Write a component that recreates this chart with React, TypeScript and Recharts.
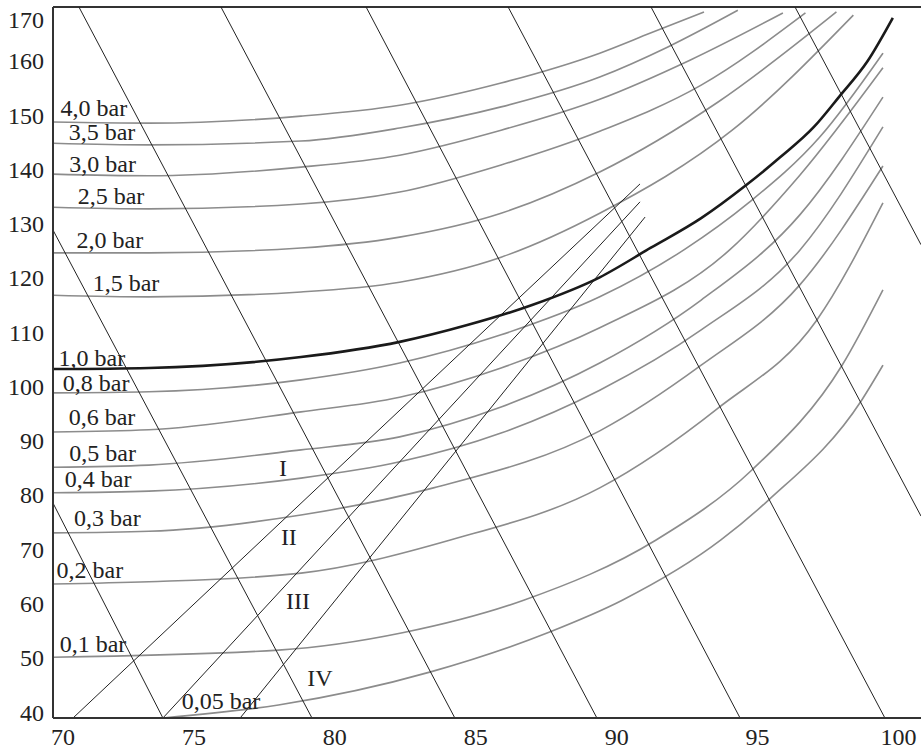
import React from 'react'
import { LineChart, Line, XAxis, YAxis, ReferenceLine, ReferenceDot } from 'recharts'

// axis ticks
const xTicks = [70, 75, 80, 85, 90, 95, 100]
const yTicks = [40, 50, 60, 70, 80, 90, 100, 110, 120, 130, 140, 150, 160, 170]

// pressure curves: [x, temperature]
const bar4_0 = [[70, 148.8], [73.4, 148.6], [78.8, 149.9], [82.3, 151.9], [85.9, 156.0], [89.4, 161.5], [91.2, 165.2], [93.1, 169.1]]
const bar3_5 = [[70, 144.9], [73.4, 144.6], [78.8, 145.3], [82.3, 147.7], [85.9, 151.6], [89.4, 157.1], [91.8, 162.6], [94.3, 169.4]]
const bar3_0 = [[70, 139.2], [73.4, 138.9], [78.8, 140.5], [82.3, 142.7], [85.9, 147.3], [89.4, 153.0], [92.6, 160.2], [95.9, 168.9]]
const bar2_5 = [[70, 133.1], [73.4, 132.8], [78.8, 133.7], [82.3, 135.9], [85.9, 140.9], [89.4, 147.1], [93.0, 155.6], [96.7, 168.9]]
const bar2_0 = [[70, 124.7], [73.4, 124.7], [78.8, 125.6], [82.3, 127.6], [85.9, 132.0], [89.4, 139.6], [93.6, 152.5], [97.8, 169.1]]
const bar1_5 = [[70, 116.9], [73.4, 116.6], [78.8, 117.5], [82.3, 119.3], [85.9, 123.9], [89.4, 132.0], [94.1, 147.3], [98.4, 168.5]]
const bar1_0 = [[70, 103.3], [73.4, 103.5], [78.8, 105.5], [82.3, 108.3], [84.7, 111.4], [87.0, 115.1], [89.4, 120.2], [91.2, 125.6], [93.0, 131.1], [94.6, 137.2], [95.8, 142.3], [97.0, 147.9], [97.9, 153.5], [98.9, 160.0], [99.8, 168.0]]
const bar0_8 = [[70, 98.9], [73.4, 99.1], [78.8, 101.3], [82.3, 104.4], [85.9, 109.6], [89.4, 116.6], [92.4, 125.3], [94.7, 134.0], [97.2, 146.0], [99.45, 161.5]]
const bar0_6 = [[70, 91.7], [73.4, 92.1], [78.8, 95.4], [82.3, 98.1], [85.9, 103.5], [89.4, 110.9], [94.0, 125.2], [96.5, 139.0], [99.45, 158.8]]
const bar0_5 = [[70, 85.2], [73.4, 85.6], [78.8, 88.4], [82.3, 90.8], [85.9, 96.3], [89.4, 104.4], [93.0, 116.0], [96.5, 131.7], [99.45, 153.4]]
const bar0_4 = [[70, 80.5], [73.4, 80.8], [78.8, 83.2], [82.3, 86.2], [85.9, 91.5], [89.4, 99.4], [93.0, 110.5], [96.5, 125.2], [99.45, 147.9]]
const bar0_3 = [[70, 73.1], [73.4, 73.4], [78.8, 76.4], [83.5, 81.4], [89.4, 91.9], [93.0, 104.0], [96.5, 118.8], [99.45, 140.7]]
const bar0_2 = [[70, 63.7], [73.4, 64.1], [78.8, 65.7], [84.1, 71.8], [89.4, 81.4], [93.6, 96.1], [97.1, 112.3], [99.45, 133.9]]
const bar0_1 = [[70, 50.2], [78.0, 51.5], [82.4, 54.7], [86.7, 60.7], [91.4, 71.8], [94.8, 84.7], [98.0, 104.0], [99.45, 117.9]]
const bar0_05 = [[73.9, 39.0], [78.0, 41.4], [83.4, 47.5], [87.6, 54.8], [90.2, 60.7], [93.7, 71.8], [95.4, 79.2], [98.7, 97.6], [99.45, 104.0]]

const grayCurves = [bar4_0, bar3_5, bar3_0, bar2_5, bar2_0, bar1_5, bar0_8, bar0_6, bar0_5, bar0_4, bar0_3, bar0_2, bar0_1, bar0_05]

// straight descending lines
const falling = [
  [[70, 78.6], [73.9, 39]],
  [[70, 128.9], [79.19, 39]],
  [[70.92, 170], [84.26, 39]],
  [[75.96, 170], [89.3, 39]],
  [[81.11, 170], [94.38, 39]],
  [[86.15, 170], [99.52, 39]],
  [[91.22, 170], [100.8, 76.2]],
  [[96.33, 170], [100.8, 126.2]],
]

// lines I-III
const rising = [
  [[70.71, 39], [90.83, 137.4]],
  [[73.9, 39], [90.83, 134.1]],
  [[76.64, 39], [91.01, 131.3]],
]

const curveNames = ['4,0 bar', '3,5 bar', '3,0 bar', '2,5 bar', '2,0 bar', '1,5 bar', '1,0 bar', '0,8 bar', '0,6 bar', '0,5 bar', '0,4 bar', '0,3 bar', '0,2 bar', '0,1 bar', '0,05 bar']
const curveLabelAt = [[71.45, 151.4], [71.74, 147.0], [71.76, 141.1], [72.06, 135.2], [72.02, 127.1], [72.59, 119.2], [71.38, 105.5], [71.53, 100.9], [71.74, 94.5], [71.76, 88.0], [71.6, 83.2], [71.93, 75.9], [71.31, 66.3], [71.42, 52.8], [75.96, 42.3]]
const regionNames = ['I', 'II', 'III', 'IV']
const regionLabelAt = [[78.16, 85.1], [78.37, 72.4], [78.69, 60.6], [79.47, 46.4]]

const toPoints = (arr: number[][]) => arr.map(([x, y]) => ({ x, y }))

const font = '"Liberation Serif", "Times New Roman", serif'
const ink = '#222'

const XTick = ({ x, y, payload }: any) => (
  <text x={payload.value === 70 ? x + 10 : x} y={y + 27} textAnchor='middle' fontFamily={font} fontSize={24} fill={ink}>
    {payload.value}
  </text>
)

const YTick = ({ x, y, payload }: any) => (
  <text x={x} y={Math.max(y, 20) + 8} textAnchor='end' fontFamily={font} fontSize={24} fill={ink}>
    {payload.value}
  </text>
)

const textLabel = (value: string) => ({
  value,
  position: 'center' as const,
  fontFamily: font,
  fontSize: 24,
  fill: ink,
})

export default function App() {
  return (
    <div>
      <style>{'body{margin:0}'}</style>
      <LineChart width={921} height={749} margin={{ top: 7, right: 0, left: 0, bottom: 0 }}>
        <XAxis
          type='number'
          dataKey='x'
          domain={[70, 100.8]}
          ticks={xTicks}
          interval={0}
          height={31}
          tickLine={false}
          tickSize={0}
          tickMargin={0}
          axisLine={{ stroke: '#333', strokeWidth: 2 }}
          tick={<XTick />}
        />
        <YAxis
          type='number'
          dataKey='y'
          domain={[39, 170]}
          ticks={yTicks}
          interval={0}
          width={53}
          tickLine={false}
          tickSize={0}
          tickMargin={9}
          axisLine={{ stroke: '#333', strokeWidth: 2 }}
          tick={<YTick />}
        />
        <ReferenceLine y={170} stroke='#333' strokeWidth={2} />

        {grayCurves.map((c, i) => (
          <Line
            key={'g' + i}
            data={toPoints(c)}
            dataKey='y'
            type='monotone'
            stroke='#8c8c8c'
            strokeWidth={1.6}
            dot={false}
            activeDot={false}
            isAnimationActive={false}
          />
        ))}

        {falling.map((c, i) => (
          <Line
            key={'f' + i}
            data={toPoints(c)}
            dataKey='y'
            type='linear'
            stroke={ink}
            strokeWidth={1}
            dot={false}
            activeDot={false}
            isAnimationActive={false}
          />
        ))}

        {rising.map((c, i) => (
          <Line
            key={'r' + i}
            data={toPoints(c)}
            dataKey='y'
            type='linear'
            stroke={ink}
            strokeWidth={1}
            dot={false}
            activeDot={false}
            isAnimationActive={false}
          />
        ))}

        <Line
          data={toPoints(bar1_0)}
          dataKey='y'
          type='monotone'
          stroke='#1a1a1a'
          strokeWidth={2.6}
          dot={false}
          activeDot={false}
          isAnimationActive={false}
        />

        {curveNames.map((name, i) => (
          <ReferenceDot
            key={'l' + i}
            x={curveLabelAt[i][0]}
            y={curveLabelAt[i][1]}
            r={0}
            stroke='none'
            fill='none'
            label={textLabel(name)}
          />
        ))}
        {regionNames.map((name, i) => (
          <ReferenceDot
            key={'n' + i}
            x={regionLabelAt[i][0]}
            y={regionLabelAt[i][1]}
            r={0}
            stroke='none'
            fill='none'
            label={textLabel(name)}
          />
        ))}
      </LineChart>
    </div>
  )
}
